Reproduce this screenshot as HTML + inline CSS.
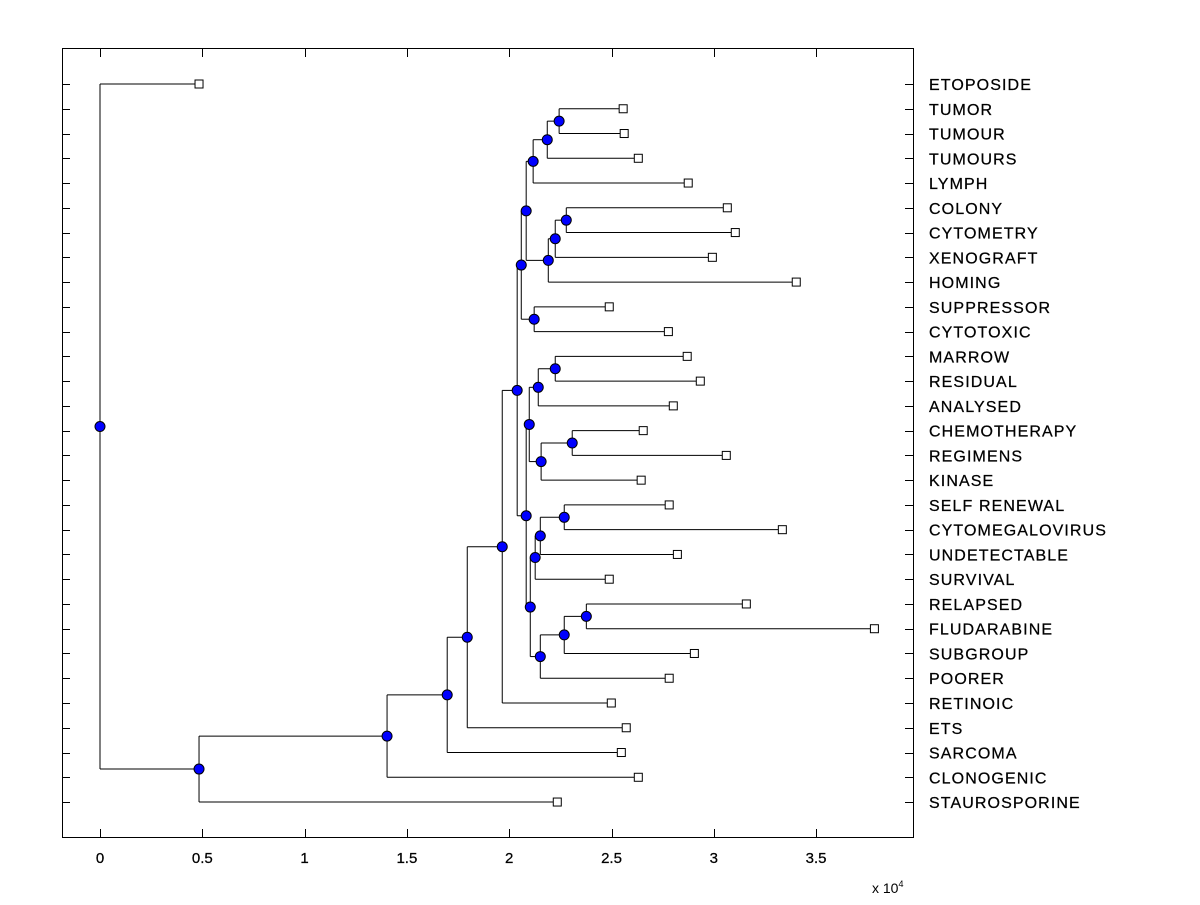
<!DOCTYPE html>
<html><head><meta charset="utf-8"><style>
body{margin:0;background:#fff;}
svg text{font-family:"Liberation Sans",Arial,sans-serif;fill:#000;}
</style></head><body>
<svg id="chart" width="1200" height="900" xmlns="http://www.w3.org/2000/svg">
<rect x="62.5" y="48.5" width="851" height="789" fill="#fff" stroke="#000" stroke-width="1"/>
<g id="marks"></g>
</svg>
<script>
const leafNames=["ETOPOSIDE","TUMOR","TUMOUR","TUMOURS","LYMPH","COLONY","CYTOMETRY","XENOGRAFT","HOMING","SUPPRESSOR","CYTOTOXIC","MARROW","RESIDUAL","ANALYSED","CHEMOTHERAPY","REGIMENS","KINASE","SELF RENEWAL","CYTOMEGALOVIRUS","UNDETECTABLE","SURVIVAL","RELAPSED","FLUDARABINE","SUBGROUP","POORER","RETINOIC","ETS","SARCOMA","CLONOGENIC","STAUROSPORINE"];
const leafHeights=[0.484,2.557,2.562,2.631,2.875,3.066,3.105,2.993,3.403,2.489,2.778,2.870,2.934,2.802,2.655,3.061,2.645,2.782,3.335,2.822,2.489,3.159,3.785,2.905,2.782,2.499,2.572,2.548,2.631,2.235];
const mergeLeft=[1,30,31,5,33,34,32,9,36,11,39,14,41,40,17,44,45,21,47,48,46,43,38,52,53,54,55,56,0];
const mergeRight=[2,3,4,6,7,8,35,10,37,12,13,15,16,42,18,19,20,22,23,24,49,50,51,25,26,27,28,29,57];
const mergeHeights=[2.244,2.186,2.117,2.279,2.225,2.191,2.083,2.122,2.059,2.225,2.142,2.308,2.156,2.098,2.269,2.152,2.127,2.377,2.269,2.152,2.103,2.083,2.039,1.966,1.795,1.697,1.403,0.484,0];
const xTicks=[0,0.5,1,1.5,2,2.5,3,3.5];
const xTickLabels=["0","0.5","1","1.5","2","2.5","3","3.5"];

const NS="http://www.w3.org/2000/svg";
const g=document.getElementById('marks');
const xs=v=>100+v*204.6;
const ys=i=>84+i*24.76;
function mk(tag,attrs,parent){const e=document.createElementNS(NS,tag);for(const k in attrs)e.setAttribute(k,attrs[k]);(parent||g).appendChild(e);return e;}

leafNames.forEach((n,i)=>{
  const y=Math.round(ys(i))+0.5;
  let t=mk('line',{x1:62,x2:70,y1:y,y2:y,stroke:'#000'});
  
  
  let t2=mk('line',{x1:905,x2:913,y1:y,y2:y,stroke:'#000'});
  
  
  let lb=mk('text',{x:929,y:ys(i)+6,'font-size':16,'letter-spacing':'1.1','stroke':'#000','stroke-width':'0.25'});
  lb.textContent=n;
  
  
});
xTicks.forEach((v,i)=>{
  const x=Math.round(xs(v))+0.5;
  let t=mk('line',{x1:x,x2:x,y1:829,y2:838,stroke:'#000'});
  
  
  let t2=mk('line',{x1:x,x2:x,y1:48,y2:57,stroke:'#000'});
  
  
  let lb=mk('text',{x:xs(v),y:863,'font-size':15,'text-anchor':'middle','stroke':'#000','stroke-width':'0.25'});
  lb.textContent=xTickLabels[i];
  
  
});
let ex=mk('text',{x:872,y:893,'font-size':14});
ex.innerHTML='x 10<tspan dy="-6" font-size="9">4</tspan>';



const H=[...leafHeights], Y=leafNames.map((_,i)=>ys(i));
mergeLeft.forEach((l,k)=>{const r=mergeRight[k];H.push(mergeHeights[k]);Y.push((Y[l]+Y[r])/2);});
const lines=mk('g',{});
mergeLeft.forEach((l,k)=>{
  const r=mergeRight[k], id=leafNames.length+k, x=xs(H[id]);
  [l,r].forEach(c=>{
    let h=mk('line',{x1:x,x2:xs(H[c]),y1:Y[c],y2:Y[c],stroke:'#000','stroke-width':1},lines);
    
    
  });
  let v=mk('line',{x1:x,x2:x,y1:Y[l],y2:Y[r],stroke:'#000','stroke-width':1},lines);
  
  
});
leafNames.forEach((n,i)=>{
  let s=mk('rect',{x:xs(H[i])-4,y:Y[i]-4,width:8,height:8,fill:'#fff',stroke:'#000'});
  
  
});
mergeLeft.forEach((l,k)=>{
  const id=leafNames.length+k;
  let c=mk('circle',{cx:xs(H[id]),cy:Y[id],r:5,fill:'#0000ff',stroke:'#000'});
  
  
});
</script>
</body></html>
